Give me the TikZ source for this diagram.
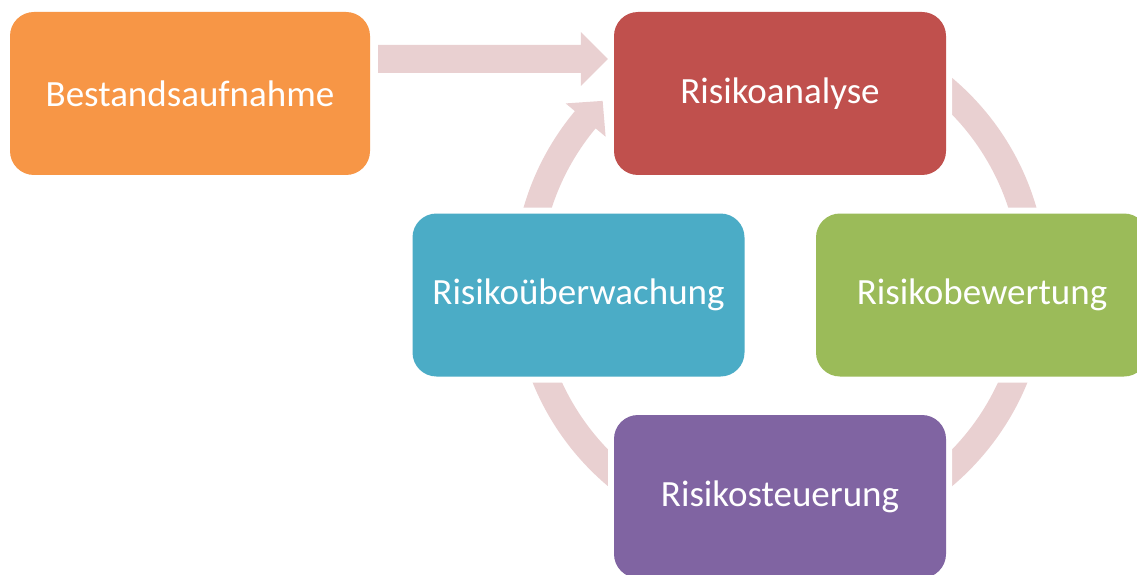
\documentclass[tikz,border=0pt]{standalone}
\usepackage{fontspec}
\setmainfont{Carlito}
\usetikzlibrary{calc}
\definecolor{ringpink}{HTML}{E9D0D1}
\definecolor{boxorange}{HTML}{F79646}
\definecolor{boxred}{HTML}{C0504D}
\definecolor{boxgreen}{HTML}{9BBB59}
\definecolor{boxblue}{HTML}{4BACC6}
\definecolor{boxpurple}{HTML}{8064A2}
\begin{document}
\begin{tikzpicture}[x=1pt,y=1pt,
  box/.style={shape=rectangle, rounded corners=24pt, minimum width=332pt,
    minimum height=163pt, inner sep=0pt, text=white,
    font=\fontsize{37}{44}\selectfont,
    preaction={draw=white, line width=12pt}}]
\useasboundingbox (0,0) rectangle (1137,574);
\coordinate (c) at (780,292);
% cycle ring with arrowhead
\fill[ringpink] ([shift={(120:240)}]c) arc[start angle=120,end angle=-219.8,radius=240]
  -- ([shift={(140.2:227)}]c) -- ([shift={(134.4:253.5)}]c) -- ([shift={(140.2:279)}]c)
  -- ([shift={(140.2:267)}]c) arc[start angle=140.2,end angle=480,radius=267] -- cycle;
% nodes
\node[box, fill=boxorange, minimum width=360pt] (bestand) at (190,480.5) {Bestandsaufnahme};
\node[box, fill=boxred] (analyse) at (780,480.5) {Risikoanalyse};
\node[box, fill=boxgreen] (bewertung) at (982,279) {Risikobewertung};
\node[box, fill=boxblue] (ueberwachung) at (578.5,279) {Risikoüberwachung};
\node[box, fill=boxpurple] (steuerung) at (780,77.5) {Risikosteuerung};
% block arrow from Bestandsaufnahme to Risikoanalyse
\coordinate (a0) at ($(bestand.east)+(8,34.5)$);
\coordinate (a1) at ($(analyse.west)+(-6,34.5)$);
\fill[ringpink] ($(a0)+(0,14)$) -- ($(a1)+(-27,14)$) -- ($(a1)+(-27,27)$) -- (a1)
  -- ($(a1)+(-27,-27)$) -- ($(a1)+(-27,-14)$) -- ($(a0)+(0,-14)$) -- cycle;
\end{tikzpicture}
\end{document}
